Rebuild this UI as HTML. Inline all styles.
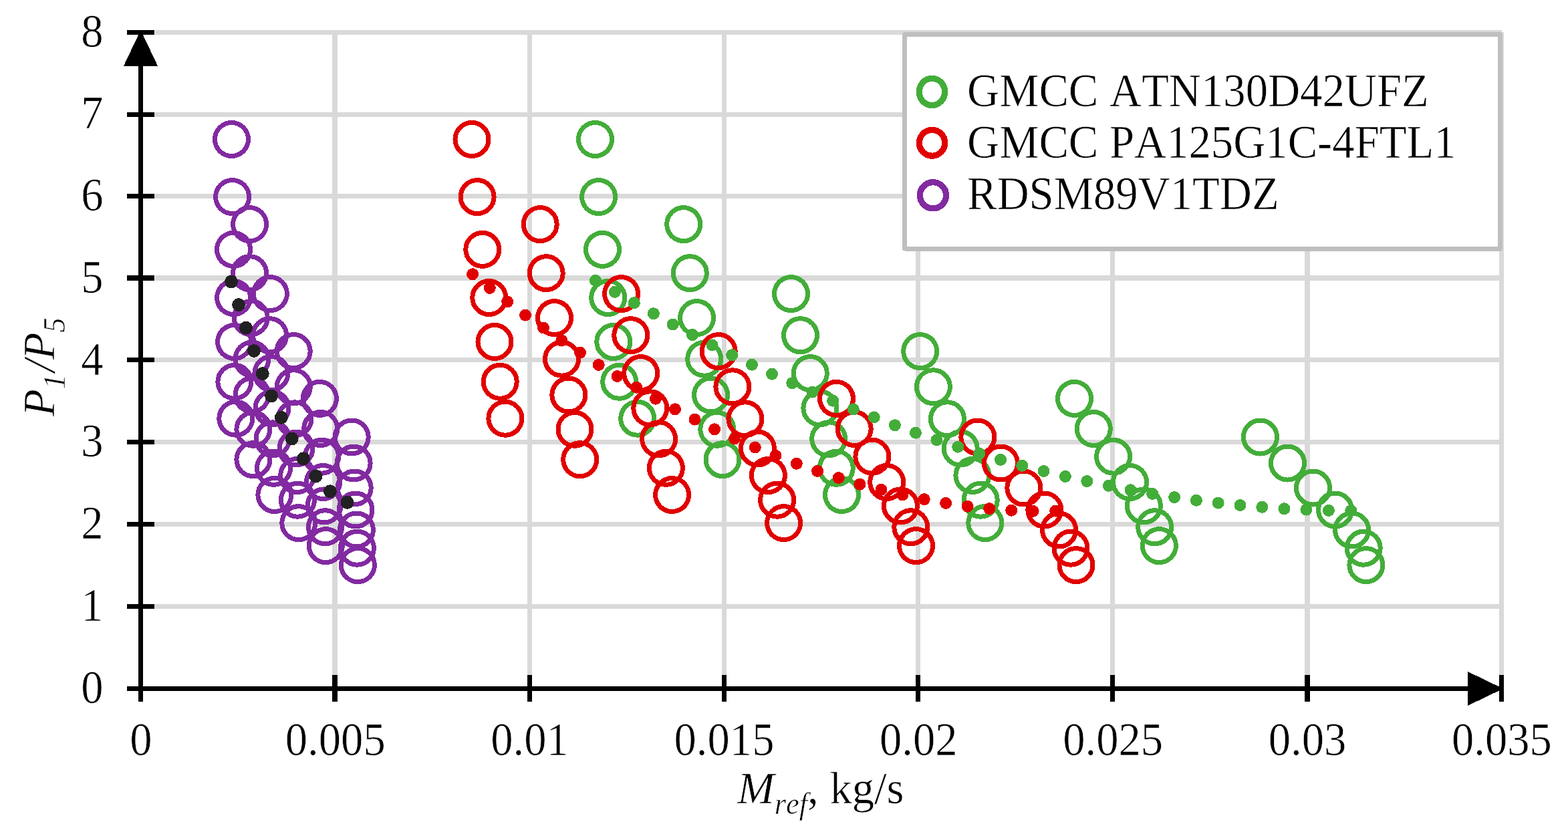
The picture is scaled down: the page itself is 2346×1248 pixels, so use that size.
<!DOCTYPE html>
<html lang="en"><head><meta charset="utf-8"><title>P1/P5 vs Mref, kg/s</title>
<style>html,body{margin:0;padding:0;background:#fff}svg{display:block}text{font-family:"Liberation Serif",serif;font-size:66.67px;fill:#000;font-kerning:none;font-variant-ligatures:none;stroke:#fff;stroke-width:0.6px;paint-order:fill stroke}.i{font-style:italic}.s{font-size:44.45px}</style></head><body>
<svg width="2346" height="1248" viewBox="0 0 2346 1248" role="img" aria-label="P1/P5 versus Mref for three compressors">
<rect width="2346" height="1248" fill="#fff"/>
<g fill="#d9d9d9" shape-rendering="crispEdges"><rect x="497" y="48" width="8" height="962"/><rect x="789" y="48" width="7" height="962"/><rect x="1080" y="48" width="7" height="962"/><rect x="1370" y="48" width="7" height="962"/><rect x="1661" y="48" width="7" height="962"/><rect x="1952" y="48" width="8" height="962"/><rect x="2243" y="48" width="7" height="962"/><rect x="232" y="45" width="2015" height="7"/><rect x="231" y="168" width="2016" height="7"/><rect x="231" y="290" width="2016" height="7"/><rect x="232" y="412" width="2015" height="8"/><rect x="231" y="535" width="2016" height="7"/><rect x="231" y="658" width="2016" height="7"/><rect x="231" y="781" width="2016" height="7"/><rect x="231" y="904" width="2016" height="7"/></g>
<g id="green" fill="none" stroke="#43ad39" stroke-width="7" shape-rendering="crispEdges"><circle cx="890.5" cy="208.5" r="25"/><circle cx="895.6" cy="294.6" r="25"/><circle cx="901.5" cy="373.4" r="25"/><circle cx="909.7" cy="445.5" r="25"/><circle cx="917.8" cy="511.5" r="25"/><circle cx="926.7" cy="571.3" r="25"/><circle cx="953.7" cy="626.2" r="25"/><circle cx="1022.7" cy="335.6" r="25"/><circle cx="1032.3" cy="408.7" r="25"/><circle cx="1042.6" cy="475.6" r="25"/><circle cx="1053.7" cy="537.2" r="25"/><circle cx="1063.6" cy="591" r="25"/><circle cx="1072.8" cy="642.3" r="25"/><circle cx="1081" cy="687.7" r="25"/><circle cx="1183.5" cy="439.6" r="25"/><circle cx="1197.5" cy="501.7" r="25"/><circle cx="1212.3" cy="558.6" r="25"/><circle cx="1226.9" cy="610.8" r="25"/><circle cx="1239.7" cy="656.8" r="25"/><circle cx="1251.3" cy="700.3" r="25"/><circle cx="1259.5" cy="740.5" r="25"/><circle cx="1376.7" cy="525.6" r="25"/><circle cx="1396.4" cy="578.8" r="25"/><circle cx="1417.4" cy="626.8" r="25"/><circle cx="1437.2" cy="671" r="25"/><circle cx="1454.9" cy="711.5" r="25"/><circle cx="1467.2" cy="748.2" r="25"/><circle cx="1473.8" cy="782.6" r="25"/><circle cx="1607.5" cy="596.4" r="25"/><circle cx="1636.3" cy="641.5" r="25"/><circle cx="1665.6" cy="683.2" r="25"/><circle cx="1690.5" cy="721.5" r="25"/><circle cx="1711.4" cy="756.9" r="25"/><circle cx="1727.7" cy="788.8" r="25"/><circle cx="1734.4" cy="816.6" r="25"/><circle cx="1885.5" cy="654" r="25"/><circle cx="1926.5" cy="693" r="25"/><circle cx="1964.5" cy="730" r="25"/><circle cx="1997.6" cy="763" r="25"/><circle cx="2022.6" cy="793" r="25"/><circle cx="2040.2" cy="820.2" r="25"/><circle cx="2043.9" cy="845.6" r="25"/></g>
<g id="red" fill="none" stroke="#e10000" stroke-width="7" shape-rendering="crispEdges"><circle cx="706" cy="208.5" r="25"/><circle cx="714.1" cy="294.6" r="25"/><circle cx="721.8" cy="373.4" r="25"/><circle cx="731.8" cy="445.5" r="25"/><circle cx="740" cy="511.5" r="25"/><circle cx="748.2" cy="571.3" r="25"/><circle cx="755.9" cy="626.2" r="25"/><circle cx="808.2" cy="335.6" r="25"/><circle cx="817.2" cy="408.7" r="25"/><circle cx="829.5" cy="475.6" r="25"/><circle cx="840.5" cy="537.2" r="25"/><circle cx="850.8" cy="591" r="25"/><circle cx="860" cy="642.3" r="25"/><circle cx="867.7" cy="687.7" r="25"/><circle cx="929.6" cy="439.6" r="25"/><circle cx="943.8" cy="501.7" r="25"/><circle cx="958.7" cy="558.6" r="25"/><circle cx="972.8" cy="610.8" r="25"/><circle cx="985.6" cy="656.8" r="25"/><circle cx="996.4" cy="700.3" r="25"/><circle cx="1005.6" cy="740.5" r="25"/><circle cx="1075.1" cy="525.6" r="25"/><circle cx="1095.9" cy="578.8" r="25"/><circle cx="1114.9" cy="626.8" r="25"/><circle cx="1133.4" cy="671" r="25"/><circle cx="1149.4" cy="711.5" r="25"/><circle cx="1162.6" cy="748.2" r="25"/><circle cx="1172.6" cy="782.6" r="25"/><circle cx="1251.5" cy="596.4" r="25"/><circle cx="1278.2" cy="641.5" r="25"/><circle cx="1304.9" cy="683.2" r="25"/><circle cx="1326.7" cy="721.5" r="25"/><circle cx="1347.4" cy="756.9" r="25"/><circle cx="1362.8" cy="788.8" r="25"/><circle cx="1370.5" cy="816.6" r="25"/><circle cx="1462.8" cy="654" r="25"/><circle cx="1497.4" cy="693" r="25"/><circle cx="1531.8" cy="730" r="25"/><circle cx="1562.8" cy="763" r="25"/><circle cx="1584.6" cy="793" r="25"/><circle cx="1602" cy="820.2" r="25"/><circle cx="1610" cy="845.6" r="25"/></g>
<g id="purple" fill="none" stroke="#822aa1" stroke-width="7" shape-rendering="crispEdges"><circle cx="346.5" cy="208.5" r="25"/><circle cx="347.6" cy="294.6" r="25"/><circle cx="349.5" cy="373.4" r="25"/><circle cx="349.6" cy="445.5" r="25"/><circle cx="350.6" cy="511.5" r="25"/><circle cx="350.9" cy="571.3" r="25"/><circle cx="352.8" cy="626.2" r="25"/><circle cx="373.6" cy="335.6" r="25"/><circle cx="373.6" cy="408.7" r="25"/><circle cx="375.3" cy="475.6" r="25"/><circle cx="377" cy="537.2" r="25"/><circle cx="377" cy="591" r="25"/><circle cx="378.9" cy="642.3" r="25"/><circle cx="378.9" cy="687.7" r="25"/><circle cx="404.4" cy="439.6" r="25"/><circle cx="403.6" cy="501.7" r="25"/><circle cx="405.9" cy="558.6" r="25"/><circle cx="407" cy="610.8" r="25"/><circle cx="408" cy="656.8" r="25"/><circle cx="409.5" cy="700.3" r="25"/><circle cx="410.9" cy="740.5" r="25"/><circle cx="439.2" cy="525.6" r="25"/><circle cx="439.3" cy="578.8" r="25"/><circle cx="441" cy="626.8" r="25"/><circle cx="443" cy="671" r="25"/><circle cx="444.7" cy="711.5" r="25"/><circle cx="445.4" cy="748.2" r="25"/><circle cx="446.8" cy="782.6" r="25"/><circle cx="478.4" cy="596.4" r="25"/><circle cx="479.7" cy="641.5" r="25"/><circle cx="481.5" cy="683.2" r="25"/><circle cx="483.5" cy="721.5" r="25"/><circle cx="485" cy="756.9" r="25"/><circle cx="486.5" cy="788.8" r="25"/><circle cx="487.3" cy="816.6" r="25"/><circle cx="526.2" cy="654" r="25"/><circle cx="529.1" cy="693" r="25"/><circle cx="530.2" cy="730" r="25"/><circle cx="532" cy="763" r="25"/><circle cx="533.4" cy="793" r="25"/><circle cx="534.4" cy="820.2" r="25"/><circle cx="535.4" cy="845.6" r="25"/></g>
<g id="gdots" fill="#43ad39" shape-rendering="crispEdges"><circle cx="890.98" cy="419.81" r="9"/><circle cx="919.94" cy="436.83" r="9"/><circle cx="948.82" cy="453.12" r="9"/><circle cx="977.86" cy="469.2" r="9"/><circle cx="1006.72" cy="485.51" r="9"/><circle cx="1035.96" cy="501" r="9"/><circle cx="1065.53" cy="516.46" r="9"/><circle cx="1095.19" cy="531.2" r="9"/><circle cx="1124.95" cy="545.7" r="9"/><circle cx="1155.04" cy="559.76" r="9"/><circle cx="1185.28" cy="573.24" r="9"/><circle cx="1215.57" cy="586.67" r="9"/><circle cx="1246.14" cy="599.75" r="9"/><circle cx="1276.86" cy="612.39" r="9"/><circle cx="1307.73" cy="624.36" r="9"/><circle cx="1338.93" cy="636.27" r="9"/><circle cx="1369.93" cy="647.66" r="9"/><circle cx="1401.46" cy="658.47" r="9"/><circle cx="1433.23" cy="668.69" r="9"/><circle cx="1465.24" cy="678.78" r="9"/><circle cx="1497.03" cy="687.92" r="9"/><circle cx="1529.24" cy="696.85" r="9"/><circle cx="1561.52" cy="704.97" r="9"/><circle cx="1593.87" cy="712.98" r="9"/><circle cx="1626.31" cy="720.08" r="9"/><circle cx="1658.91" cy="726.81" r="9"/><circle cx="1691.54" cy="733.26" r="9"/><circle cx="1724.2" cy="738.94" r="9"/><circle cx="1757.13" cy="744.05" r="9"/><circle cx="1789.92" cy="748.78" r="9"/><circle cx="1822.63" cy="752.59" r="9"/><circle cx="1855.46" cy="756.06" r="9"/><circle cx="1888.35" cy="758.8" r="9"/><circle cx="1921.44" cy="761.19" r="9"/><circle cx="1954.44" cy="762.66" r="9"/><circle cx="1987.89" cy="763.91" r="9"/><circle cx="2021.36" cy="764.09" r="9"/></g>
<g id="rdots" fill="#e10000" shape-rendering="crispEdges"><circle cx="707.04" cy="410.22" r="9"/><circle cx="732.81" cy="430.95" r="9"/><circle cx="759.14" cy="451.39" r="9"/><circle cx="785.97" cy="471.6" r="9"/><circle cx="812.98" cy="490.52" r="9"/><circle cx="840.42" cy="509.54" r="9"/><circle cx="868" cy="527.72" r="9"/><circle cx="895.66" cy="545.97" r="9"/><circle cx="923.55" cy="562.98" r="9"/><circle cx="952.23" cy="579.79" r="9"/><circle cx="980.94" cy="596.69" r="9"/><circle cx="1009.96" cy="612.31" r="9"/><circle cx="1039.51" cy="627.64" r="9"/><circle cx="1069.05" cy="642.31" r="9"/><circle cx="1098.97" cy="656.35" r="9"/><circle cx="1129.81" cy="669.44" r="9"/><circle cx="1160.42" cy="681.77" r="9"/><circle cx="1191.77" cy="693.78" r="9"/><circle cx="1223.06" cy="704.93" r="9"/><circle cx="1254.66" cy="715.04" r="9"/><circle cx="1286.46" cy="724.72" r="9"/><circle cx="1318.5" cy="732.81" r="9"/><circle cx="1350.26" cy="740.51" r="9"/><circle cx="1382.73" cy="747.12" r="9"/><circle cx="1415.09" cy="752.9" r="9"/><circle cx="1447.65" cy="757.69" r="9"/><circle cx="1480.37" cy="761.1" r="9"/><circle cx="1513.2" cy="763.68" r="9"/><circle cx="1545.58" cy="764.87" r="9"/><circle cx="1579.26" cy="764.61" r="9"/></g>
<g id="bdots" fill="#212121" shape-rendering="crispEdges"><circle cx="346.08" cy="421.48" r="9.95"/><circle cx="357.02" cy="456.07" r="9.95"/><circle cx="368.07" cy="490.76" r="9.95"/><circle cx="379.95" cy="525.03" r="9.95"/><circle cx="392.79" cy="559.1" r="9.95"/><circle cx="406.08" cy="592.46" r="9.95"/><circle cx="420.81" cy="624.82" r="9.95"/><circle cx="436.68" cy="656.44" r="9.95"/><circle cx="453.83" cy="686.37" r="9.95"/><circle cx="472.44" cy="712.59" r="9.95"/><circle cx="493.88" cy="735.31" r="9.95"/><circle cx="519.57" cy="751.88" r="9.95"/></g>
<g fill="#000" shape-rendering="crispEdges"><rect x="207" y="60" width="7" height="990"/><rect x="190" y="1027" width="2040" height="7"/><rect x="190" y="45" width="41" height="7"/><rect x="190" y="168" width="41" height="7"/><rect x="190" y="290" width="41" height="7"/><rect x="190" y="412" width="41" height="8"/><rect x="190" y="535" width="41" height="7"/><rect x="190" y="658" width="41" height="7"/><rect x="190" y="781" width="41" height="7"/><rect x="190" y="904" width="41" height="7"/><rect x="497" y="1010" width="8" height="40"/><rect x="789" y="1010" width="7" height="40"/><rect x="1080" y="1010" width="7" height="40"/><rect x="1370" y="1010" width="7" height="40"/><rect x="1661" y="1010" width="7" height="40"/><rect x="1952" y="1010" width="8" height="40"/><rect x="2243" y="1010" width="7" height="40"/><path d="M210.5 45 L236 98.7 H185 Z"/><path d="M2249 1030.5 L2196 1005 V1056 Z"/></g>
<rect x="1353.5" y="51.5" width="891" height="320.5" fill="#fff" stroke="#bfbfbf" stroke-width="7" stroke-linejoin="round" shape-rendering="crispEdges"/><ellipse cx="1394.45" cy="137.45" rx="19.2" ry="20.1" fill="none" stroke="#43ad39" stroke-width="9.2" shape-rendering="crispEdges"/><text transform="translate(1447 158.8) scale(1 1.055)">GMCC ATN130D42UFZ</text><ellipse cx="1394.55" cy="213.8" rx="19.2" ry="19.4" fill="none" stroke="#e10000" stroke-width="9.2" shape-rendering="crispEdges"/><text transform="translate(1447 235.6) scale(1 1.055)">GMCC PA125G1C-4FTL1</text><ellipse cx="1395.95" cy="292.3" rx="19.6" ry="19.6" fill="none" stroke="#822aa1" stroke-width="9.2" shape-rendering="crispEdges"/><text transform="translate(1447 312.6) scale(1 1.055)">RDSM89V1TDZ</text>
<text transform="translate(154.6 1051.5) scale(1 1.055)" text-anchor="end">0</text><text transform="translate(154.6 928.75) scale(1 1.055)" text-anchor="end">1</text><text transform="translate(154.6 806) scale(1 1.055)" text-anchor="end">2</text><text transform="translate(154.6 683.25) scale(1 1.055)" text-anchor="end">3</text><text transform="translate(154.6 560.5) scale(1 1.055)" text-anchor="end">4</text><text transform="translate(154.6 437.75) scale(1 1.055)" text-anchor="end">5</text><text transform="translate(154.6 315) scale(1 1.055)" text-anchor="end">6</text><text transform="translate(154.6 192.25) scale(1 1.055)" text-anchor="end">7</text><text transform="translate(154.6 69.5) scale(1 1.055)" text-anchor="end">8</text><text transform="translate(210.9 1129.6) scale(1 1.055)" text-anchor="middle">0</text><text transform="translate(501.76 1129.6) scale(1 1.055)" text-anchor="middle">0.005</text><text transform="translate(792.61 1129.6) scale(1 1.055)" text-anchor="middle">0.01</text><text transform="translate(1083.47 1129.6) scale(1 1.055)" text-anchor="middle">0.015</text><text transform="translate(1374.33 1129.6) scale(1 1.055)" text-anchor="middle">0.02</text><text transform="translate(1665.19 1129.6) scale(1 1.055)" text-anchor="middle">0.025</text><text transform="translate(1956.04 1129.6) scale(1 1.055)" text-anchor="middle">0.03</text><text transform="translate(2246.9 1129.6) scale(1 1.055)" text-anchor="middle">0.035</text>
<text transform="translate(1103.2 1201.7) scale(1 1.030)"><tspan class="i">M</tspan><tspan class="i s" dy="15.5">ref</tspan><tspan dy="-15.5">, kg/s</tspan></text>
<text transform="translate(80.8 623) rotate(-90) scale(1 1.030)"><tspan class="i">P</tspan><tspan class="i s" dy="15.5">1</tspan><tspan class="i" dy="-15.5" dx="3.4">/P</tspan><tspan class="i s" dy="15.5">5</tspan></text>
</svg></body></html>
